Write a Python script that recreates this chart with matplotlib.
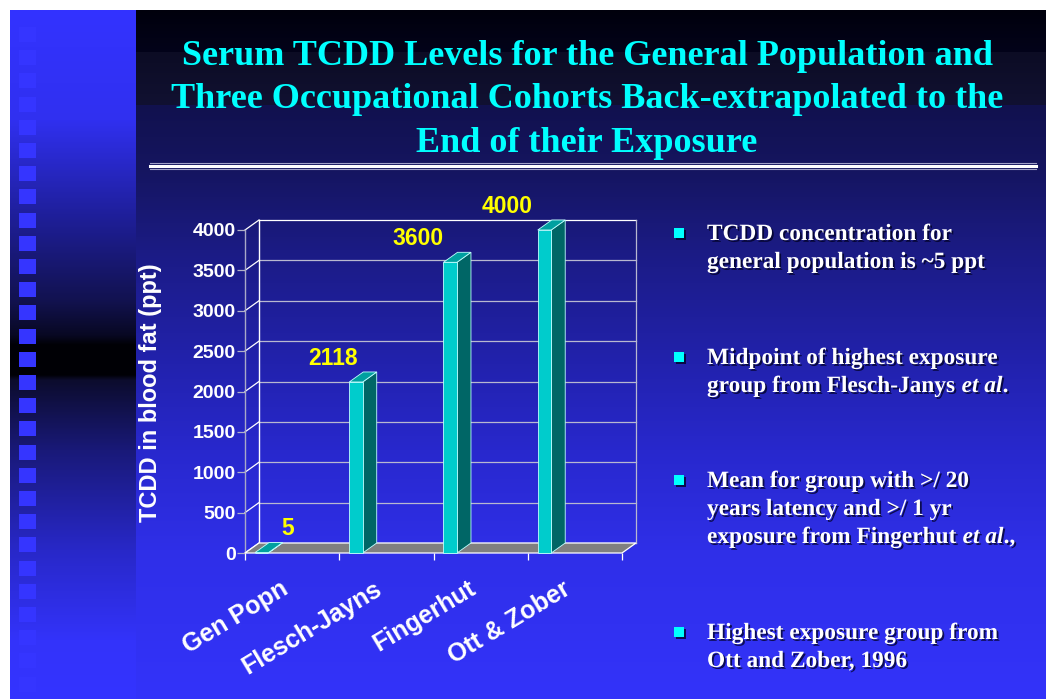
import numpy as np
import matplotlib
matplotlib.use("Agg")
import matplotlib.pyplot as plt
from matplotlib.patches import Polygon, Rectangle
import matplotlib.patheffects as pe

plt.rcParams['font.family'] = 'Liberation Sans'

# ── data ─────────────────────────────────────────
categories = ["Gen Popn", "Flesch-Jayns", "Fingerhut", "Ott & Zober"]
tcdd_ppt = [5, 2118, 3600, 4000]
value_labels = ["5", "2118", "3600", "4000"]
y_ticks = list(range(0, 4001, 500))
y_label = "TCDD in blood fat (ppt)"

title_lines = ["Serum TCDD Levels for the General Population and",
               "Three Occupational Cohorts Back-extrapolated to the",
               "End of their Exposure"]

# each bullet: list of lines, each line: list of (text, style) segments
bullets = [
    [[("TCDD concentration for", "n")],
     [("general population is ~5 ppt", "n")]],
    [[("Midpoint of highest exposure", "n")],
     [("group from Flesch-Janys", "n"), ("et al", "i"), (".", "n")]],
    [[("Mean for group with >/ 20", "n")],
     [("years latency and >/ 1 yr", "n")],
     [("exposure from Fingerhut", "n"), ("et al", "i"), (".,", "n")]],
    [[("Highest exposure group from", "n")],
     [("Ott and Zober, 1996", "n")]],
]

# ── figure / slide background ───────────────────
W, H = 1046, 699
fig = plt.figure(figsize=(W / 100, H / 100), dpi=100, facecolor='white')
bg = fig.add_axes([0, 0, 1, 1])
bg.set_xlim(0, W)
bg.set_ylim(H, 0)
bg.axis('off')


def vgrad(stops, y0, y1):
    ys = np.arange(y0, y1) + 0.5
    sy = [s[0] for s in stops]
    cols = np.array([s[1] for s in stops], dtype=float) / 255
    img = np.stack([np.interp(ys, sy, cols[:, c]) for c in range(3)], axis=-1)
    return img[:, None, :]


main_stops = [(10, (0, 0, 12)), (51.9, (3, 3, 26)), (52, (12, 12, 36)),
              (104.9, (17, 17, 50)), (105, (17, 17, 78)), (170, (21, 21, 96)),
              (250, (27, 27, 132)), (350, (33, 33, 168)), (450, (40, 40, 205)),
              (550, (47, 47, 232)), (699, (51, 51, 250))]
strip_stops = [(10, (51, 51, 255)), (120, (48, 48, 240)), (220, (30, 30, 150)),
               (300, (18, 18, 80)), (335, (8, 8, 35)), (345, (0, 0, 5)),
               (375, (0, 0, 5)), (380, (12, 12, 45)), (450, (25, 25, 120)),
               (550, (40, 40, 200)), (640, (51, 51, 250)), (699, (51, 51, 255))]

bg.imshow(vgrad(main_stops, 10, H), extent=(136, W, H, 10), aspect='auto',
          interpolation='nearest', zorder=0)
bg.imshow(vgrad(strip_stops, 10, H), extent=(10, 136, H, 10), aspect='auto',
          interpolation='nearest', zorder=0)
for k in range(29):
    bg.add_patch(Rectangle((19, 27 + 23.2 * k), 17, 15, fc='#3535ff', ec='none', zorder=1))

# title + double rule
for line, yb in zip(title_lines, [65, 108, 152]):
    bg.text(587, yb, line, color='#00ffff', family='Liberation Serif', fontweight='bold',
            fontsize=26, ha='center', va='baseline')
bg.plot([150, 1036], [163, 163], color='#a0a0c8', lw=0.8)
bg.plot([150, 1036], [166.2, 166.2], color='white', lw=2.2)
bg.plot([150, 1036], [168.8, 168.8], color='#a0a0c8', lw=0.8)

# ── 3D-style column chart ───────────────────────
ax = fig.add_axes([245 / W, 1 - 553 / H, 377 / W, 323 / H])
ax.set_xlim(0, 4)
ax.set_ylim(0, 4000)
ax.patch.set_visible(False)
for s in ax.spines.values():
    s.set_visible(False)

DX = 14 / 377 * 4          # depth offset in category units
DY = 10 / 323 * 4000       # depth offset in value units
grid_c = '#b8b8d0'

for v in y_ticks:
    ax.plot([DX, 4 + DX], [v + DY, v + DY], color='white' if v == y_ticks[-1] else grid_c,
            lw=0.9, clip_on=False, zorder=1)
    ax.plot([0, DX], [v, v + DY], color='white', lw=0.9, clip_on=False, zorder=1)
ax.plot([DX, DX], [DY, y_ticks[-1] + DY], color='white', lw=1, clip_on=False, zorder=1)
ax.plot([4 + DX] * 2, [DY, y_ticks[-1] + DY], color=grid_c, lw=0.9, clip_on=False, zorder=1)
ax.plot([0, 0], [0, y_ticks[-1]], color='#a8a8c8', lw=1, clip_on=False, zorder=1)

ax.add_patch(Polygon([(0, 0), (4, 0), (4 + DX, DY), (DX, DY)], closed=True,
                     fc='#808080', ec='white', lw=0.9, zorder=2, clip_on=False))

BAR_X0, BAR_W = 0.106, 0.143
LABEL_DX = [0.35, -0.17, -0.27, -0.32]
for i, v in enumerate(tcdd_ppt):
    x0 = i + BAR_X0
    x1 = x0 + BAR_W
    ax.add_patch(Polygon([(x1, 0), (x1 + DX, DY), (x1 + DX, v + DY), (x1, v)],
                         fc='#006666', ec='#c0ffff', lw=0.6, zorder=3, clip_on=False))
    ax.add_patch(Polygon([(x0, v), (x1, v), (x1 + DX, v + DY), (x0 + DX, v + DY)],
                         fc='#00a0a0', ec='#c0ffff', lw=0.6, zorder=3, clip_on=False))
    ax.add_patch(Rectangle((x0, 0), BAR_W, v, fc='#00cccc', ec='#c0ffff', lw=0.6,
                           zorder=4, clip_on=False))
    ax.text(x0 + LABEL_DX[i], v + 295, value_labels[i], color='#ffff00', fontsize=16.5,
            fontweight='bold', ha='center', va='center', zorder=5)

ax.set_yticks(y_ticks)
ax.tick_params(axis='y', length=5.8, width=0.9, color='#b0b0c8', pad=1,
               labelcolor='white', labelsize=14)
for t in ax.get_yticklabels():
    t.set_fontweight('bold')
ax.set_xticks(range(5))
ax.set_xticklabels([])
ax.tick_params(axis='x', length=5, width=0.9, color='white')

for i, cat in enumerate(categories):
    ax.annotate(cat, xy=(i + 0.5, 0), xytext=(-9, -17), textcoords='offset points',
                rotation=31, rotation_mode='anchor', ha='right', va='top',
                color='white', fontsize=18, fontweight='bold')

bg.text(150, 393, y_label, rotation=90, color='white', fontsize=17, fontweight='bold',
        ha='center', va='center')

# ── bullet text ─────────────────────────────────
shadow = [pe.withSimplePatchShadow(offset=(1.3, -1.3), shadow_rgbFace='#000020', alpha=0.75)]
bullet_y = [233, 357, 480, 632]
for lines, yc in zip(bullets, bullet_y):
    bg.add_patch(Rectangle((674, yc - 5), 10, 10, fc='#00ffff', ec='none', zorder=3,
                           path_effects=shadow))
    for j, segs in enumerate(lines):
        yb = yc + 7 + 28 * j
        t = None
        for txt, st in segs:
            kw = dict(color='white', family='Liberation Serif', fontweight='bold',
                      fontsize=16.8, style='italic' if st == 'i' else 'normal',
                      path_effects=shadow, zorder=4)
            if t is None:
                t = bg.text(707, yb, txt, ha='left', va='baseline', **kw)
            else:
                gap = 4.5 if st == 'i' else 0
                t = bg.annotate(txt, xy=(1, 0), xycoords=t, xytext=(gap, 0),
                                textcoords='offset points', ha='left', va='bottom', **kw)

fig.savefig('out.png', dpi=100, facecolor='white')
